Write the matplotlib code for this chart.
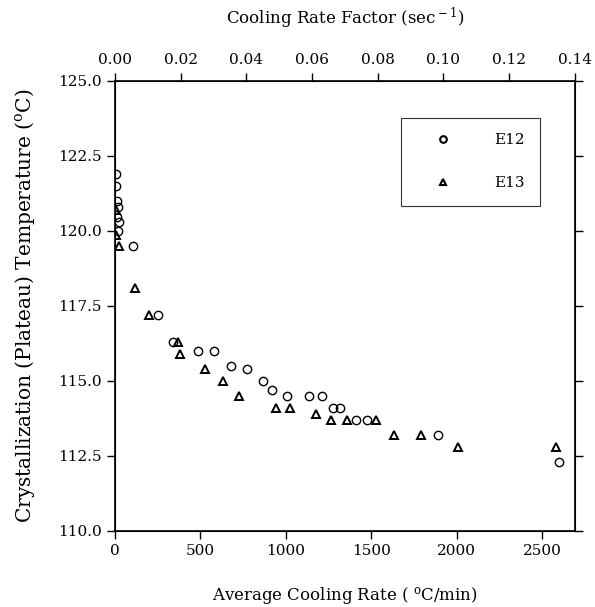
import matplotlib
matplotlib.use("Agg")
import matplotlib.pyplot as plt

# E12 data (average cooling rate in C/min, plateau temperature in C)
e12_rate = [8, 8, 10, 19, 15, 25, 20, 107, 250, 341, 487, 581, 677, 770, 868,
            920, 1004, 1137, 1213, 1273, 1316, 1410, 1476, 1892, 2600]
e12_temp = [121.9, 121.5, 121.0, 120.8, 120.45, 120.3, 120.0, 119.5, 117.2,
            116.3, 116.0, 116.0, 115.5, 115.4, 115.0, 114.7, 114.5, 114.5,
            114.5, 114.1, 114.1, 113.7, 113.7, 113.2, 112.3]

# E13 data
e13_rate = [5, 8, 25, 119, 201, 370, 384, 530, 634, 727, 942, 1024, 1174,
            1262, 1355, 1527, 1634, 1790, 2008, 2580]
e13_temp = [120.7, 119.85, 119.5, 118.1, 117.2, 116.3, 115.9, 115.4, 115.0,
            114.5, 114.1, 114.1, 113.9, 113.7, 113.7, 113.7, 113.2, 113.2,
            112.8, 112.8]

x_ticks = [0, 500, 1000, 1500, 2000, 2500]
y_ticks = [110.0, 112.5, 115.0, 117.5, 120.0, 122.5, 125.0]
top_ticks = [0.00, 0.02, 0.04, 0.06, 0.08, 0.10, 0.12, 0.14]

plt.rcParams['font.family'] = ['DejaVu Serif']
plt.rcParams['mathtext.fontset'] = 'dejavuserif'
plt.rcParams['font.size'] = 11

fig = plt.figure(figsize=(5.95, 6.07), dpi=100)
ax = fig.add_axes([0.193, 0.1257, 0.7731, 0.7414])

ax.plot(e12_rate, e12_temp, linestyle='none', marker='o', markersize=6,
        markerfacecolor='none', markeredgecolor='black', markeredgewidth=1.0,
        label='E12')
ax.plot(e13_rate, e13_temp, linestyle='none', marker='^', markersize=6,
        markerfacecolor='none', markeredgecolor='black', markeredgewidth=1.4,
        label='E13')

ax.set_xlim(0, 2690)
ax.set_ylim(110, 125)
ax.set_xticks(x_ticks)
ax.set_yticks(y_ticks)
ax.set_yticklabels(['%.1f' % v for v in y_ticks])
ax.tick_params(direction='out', length=6, width=1, right=True, labelsize=11)
for s in ax.spines.values():
    s.set_linewidth(1.2)

ax.set_xlabel('Average Cooling Rate ( $^{\\rm o}$C/min)', fontsize=12, labelpad=20)
ax.set_ylabel('Crystallization (Plateau) Temperature ($^{\\rm o}$C)', fontsize=14.5,
              labelpad=15)

ax2 = ax.twiny()
ax2.set_xlim(0, 0.14)
ax2.set_xticks(top_ticks)
ax2.set_xticklabels(['%.2f' % v for v in top_ticks])
ax2.tick_params(direction='out', length=6, width=1, labelsize=11)
ax2.set_xlabel('Cooling Rate Factor (sec$^{\\rm -1}$)', fontsize=12, labelpad=21)

leg = ax.legend(loc='upper left', bbox_to_anchor=(0.622, 0.917), frameon=True,
                fancybox=False, edgecolor='black', borderpad=1.0,
                handlelength=3.5, handletextpad=1.6, labelspacing=1.9,
                markerscale=0.8, fontsize=11, borderaxespad=0)
leg.get_frame().set_linewidth(0.8)
for h in leg.legend_handles:
    h.set_markeredgewidth(1.5)

fig.savefig('out.png', dpi=100)
